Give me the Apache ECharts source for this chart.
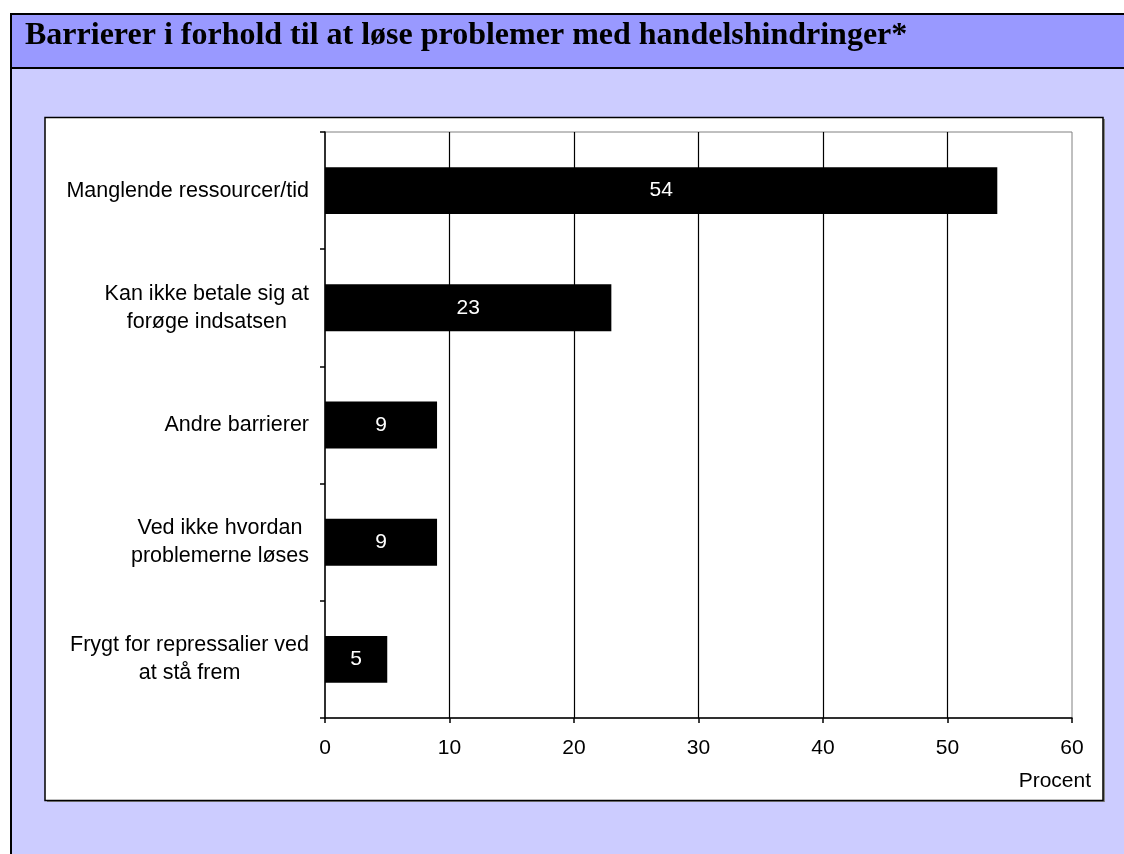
<!DOCTYPE html>
<html>
<head>
<meta charset="utf-8">
<script src="https://cdn.jsdelivr.net/npm/echarts@6/dist/echarts.min.js"></script>
<style>
  html, body { margin: 0; padding: 0; background: #ffffff; }
  #chart { width: 1124px; height: 854px; }
</style>
</head>
<body>
<div id="chart"></div>
<script>
// Survey answers: barriers to solving trade-barrier problems (percent)
const categories = [
  'Manglende ressourcer/tid',
  'Kan ikke betale sig at\nforøge indsatsen',
  'Andre barrierer',
  'Ved ikke hvordan\nproblemerne løses',
  'Frygt for repressalier ved\nat stå frem'
];
const values = [54, 23, 9, 9, 5];
const xTicks = { min: 0, max: 60, interval: 10 };
const titleText = 'Barrierer i forhold til at løse problemer med handelshindringer*';
const axisUnit = 'Procent';

const chart = echarts.init(document.getElementById('chart'), null, { renderer: 'canvas' });

const sans = 'Arial, "Liberation Sans", sans-serif';
const serif = '"Times New Roman", "Liberation Serif", serif';

chart.setOption({
  animation: false,
  backgroundColor: '#ffffff',
  graphic: [
    // outer frame, lower lavender body
    { type: 'rect', z: -10, shape: { x: 11, y: 14, width: 1124, height: 860 },
      style: { fill: '#CCCCFF', stroke: '#000000', lineWidth: 2 } },
    // title bar
    { type: 'rect', z: -9, shape: { x: 11, y: 14, width: 1124, height: 54 },
      style: { fill: '#9999FF', stroke: '#000000', lineWidth: 2 } },
    { type: 'text', z: 5, x: 25, y: 36,
      style: { text: titleText, font: 'bold 32px ' + serif, fill: '#000000',
        textVerticalAlign: 'middle' } },
    // white chart panel with slight shadow
    { type: 'rect', z: -8, shape: { x: 47, y: 119, width: 1058, height: 683 },
      style: { fill: '#888888' } },
    { type: 'rect', z: -7, shape: { x: 45, y: 117.5, width: 1058, height: 683 },
      style: { fill: '#ffffff', stroke: '#000000', lineWidth: 1.5 } },
    { type: 'text', z: 5, right: 1124 - 1091, top: 771,
      style: { text: axisUnit, font: '21px ' + sans, fill: '#000000' } }
  ],
  grid: {
    left: 325, right: 52, top: 132, bottom: 136,
    show: true, borderColor: '#808080', borderWidth: 1, backgroundColor: 'transparent'
  },
  xAxis: {
    type: 'value',
    min: xTicks.min, max: xTicks.max, interval: xTicks.interval,
    axisLine: { show: true, lineStyle: { color: '#000000', width: 1.5 } },
    axisTick: { show: true, length: 5, lineStyle: { color: '#000000', width: 1.5 } },
    axisLabel: { color: '#000000', fontSize: 21, fontFamily: sans, margin: 20 },
    splitLine: { show: true, showMinLine: false, showMaxLine: false,
      lineStyle: { color: '#000000', width: 1.2 } }
  },
  yAxis: {
    type: 'category',
    data: categories,
    inverse: true,
    axisLine: { show: true, lineStyle: { color: '#000000', width: 1.5 } },
    axisTick: { show: true, length: 5, lineStyle: { color: '#000000', width: 1.5 } },
    splitLine: { show: false },
    axisLabel: {
      margin: 16,
      align: 'right',
      formatter: function (v) {
        return v.split('\n').map(function (s) { return '{c|' + s + '}'; }).join('\n');
      },
      rich: {
        c: { align: 'center', fontSize: 21.5, fontFamily: sans, color: '#000000', lineHeight: 28 }
      }
    }
  },
  series: [{
    type: 'bar',
    data: values,
    barWidth: '40%',
    itemStyle: { color: '#000000' },
    label: {
      show: true, position: 'inside',
      color: '#ffffff', fontSize: 21, fontFamily: sans
    }
  }]
});
</script>
</body>
</html>
